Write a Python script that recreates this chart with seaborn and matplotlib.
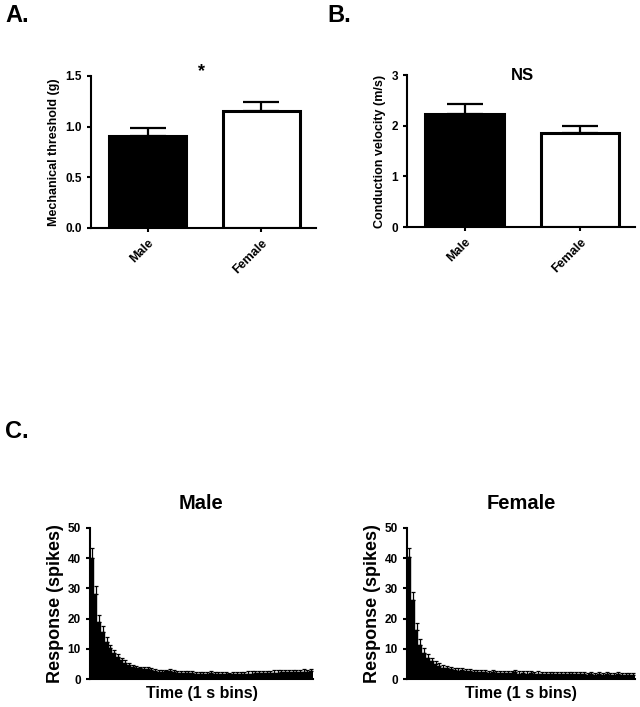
import numpy as np
import pandas as pd
import matplotlib
matplotlib.use("Agg")
import matplotlib.pyplot as plt
import seaborn as sns

# ---- data ----
groups = ["Male", "Female"]
threshold_mean = [0.91, 1.15]
threshold_sem = [0.08, 0.095]
velocity_mean = [2.24, 1.85]
velocity_sem = [0.18, 0.14]

male_resp = [40.2, 28.0, 18.8, 15.5, 12.4, 10.2, 8.5, 7.3, 6.3, 5.4,
             4.6, 4.0, 3.7, 3.5, 3.4, 3.3, 3.1, 2.7, 2.4, 2.3,
             2.5, 2.6, 2.3, 2.0, 1.9, 2.1, 2.0, 1.9, 1.8, 1.8,
             1.7, 1.8, 1.9, 1.7, 1.6, 1.7, 1.6, 1.5, 1.6, 1.7,
             1.6, 1.7, 1.8, 1.8, 1.9, 1.9, 2.0, 2.0, 2.0, 2.1,
             2.1, 2.2, 2.2, 2.3, 2.3, 2.2, 2.3, 2.4, 2.2, 2.5]
male_sem = [3.2, 2.8, 2.5, 2.0, 1.5, 1.2, 1.0, 0.9, 0.8, 0.8,
            0.7, 0.7, 0.7, 0.6, 0.7, 0.6, 0.6, 0.6, 0.6, 0.6,
            0.6, 0.7, 0.6, 0.6, 0.6, 0.6, 0.6, 0.6, 0.6, 0.6,
            0.6, 0.6, 0.6, 0.6, 0.6, 0.6, 0.6, 0.6, 0.6, 0.6,
            0.7, 0.7, 0.7, 0.7, 0.7, 0.7, 0.8, 0.8, 0.8, 0.8,
            0.8, 0.8, 0.8, 0.8, 0.8, 0.8, 0.8, 0.8, 0.8, 0.8]
female_resp = [40.3, 26.2, 16.3, 11.2, 8.5, 6.8, 5.8, 5.0, 4.3, 3.8,
               3.5, 3.3, 3.0, 2.8, 3.0, 2.6, 2.5, 2.3, 2.4, 2.2,
               2.3, 2.1, 2.2, 2.0, 2.1, 2.0, 2.1, 1.9, 2.3, 1.8,
               1.9, 1.8, 1.9, 1.7, 1.8, 1.7, 1.7, 1.6, 1.7, 1.6,
               1.6, 1.5, 1.6, 1.5, 1.6, 1.5, 1.5, 1.4, 1.5, 1.4,
               1.5, 1.4, 1.6, 1.4, 1.3, 1.5, 1.4, 1.3, 1.4, 1.3]
female_sem = [3.0, 2.5, 2.3, 2.0, 1.8, 1.5, 1.3, 1.1, 1.0, 0.9,
              0.8, 0.8, 0.8, 0.7, 0.8, 0.7, 0.7, 0.7, 0.7, 0.7,
              0.7, 0.7, 0.7, 0.7, 0.7, 0.7, 0.7, 0.7, 0.8, 0.7,
              0.7, 0.7, 0.7, 0.7, 0.7, 0.7, 0.7, 0.7, 0.7, 0.7,
              0.7, 0.7, 0.7, 0.7, 0.7, 0.7, 0.7, 0.7, 0.7, 0.7,
              0.7, 0.7, 0.7, 0.7, 0.7, 0.7, 0.7, 0.7, 0.7, 0.7]

sns.set_style("ticks")
plt.rcParams['font.family'] = ['Liberation Sans', 'DejaVu Sans']
plt.rcParams['font.weight'] = 'bold'
plt.rcParams['axes.labelweight'] = 'bold'
plt.rcParams['axes.titleweight'] = 'bold'
plt.rcParams['axes.linewidth'] = 1.5
plt.rcParams['axes.edgecolor'] = 'black'
plt.rcParams['axes.labelcolor'] = 'black'
plt.rcParams['text.color'] = 'black'
plt.rcParams['xtick.color'] = 'black'
plt.rcParams['ytick.color'] = 'black'
plt.rcParams['xtick.major.width'] = 1.5
plt.rcParams['ytick.major.width'] = 1.5
plt.rcParams['xtick.major.size'] = 3
plt.rcParams['ytick.major.size'] = 3

W, H = 640, 707
fig = plt.figure(figsize=(W / 100, H / 100), dpi=100)


def px_axes(left, top, right, bottom):
    return fig.add_axes([left / W, 1 - bottom / H, (right - left) / W, (bottom - top) / H])


def group_panel(ax, means, sems, ylabel, ylim, yticks, fmt):
    df = pd.DataFrame({"group": groups, "value": means})
    sns.barplot(data=df, x="group", y="value", hue="group", palette=["black", "white"],
                edgecolor="black", linewidth=2.2, width=0.68, legend=False, ax=ax,
                errorbar=None, saturation=1)
    ax.errorbar(range(len(groups)), means, yerr=[np.zeros(len(sems)), sems],
                fmt="none", ecolor="black", elinewidth=1.6, capsize=13, capthick=1.6,
                zorder=1)
    ax.set_xlim(-0.5, 1.48)
    ax.set_ylim(*ylim)
    ax.set_yticks(yticks)
    ax.set_yticklabels([fmt.format(t) for t in yticks], fontsize=8.5, fontweight="bold")
    ax.set_xticks(range(len(groups)))
    ax.set_xticklabels(groups, rotation=45, ha="right", rotation_mode="anchor",
                       fontsize=9, fontweight="bold")
    ax.set_xlabel("")
    ax.set_ylabel(ylabel, fontsize=9, fontweight="bold", labelpad=4)
    sns.despine(ax=ax)


# Panel A
axA = px_axes(91, 76, 316, 228)
group_panel(axA, threshold_mean, threshold_sem, "Mechanical threshold (g)",
            (0, 1.5), [0.0, 0.5, 1.0, 1.5], "{:.1f}")
fig.text(201 / W, 1 - 72 / H, "*", ha="center", va="center", fontsize=13, fontweight="bold")

# Panel B
axB = px_axes(407, 75, 635, 227)
group_panel(axB, velocity_mean, velocity_sem, "Conduction velocity (m/s)",
            (0, 3), [0, 1, 2, 3], "{:d}")
fig.text(522 / W, 1 - 75 / H, "NS", ha="center", va="center", fontsize=12, fontweight="bold")


def time_panel(ax, resp, sem, title):
    bins = np.arange(len(resp))
    df = pd.DataFrame({"bin": bins, "resp": resp})
    sns.barplot(data=df, x="bin", y="resp", color="black", edgecolor="black",
                linewidth=0.3, width=1.0, errorbar=None, ax=ax, saturation=1)
    ax.errorbar(bins, resp, yerr=[np.zeros(len(sem)), sem], fmt="none",
                ecolor="black", elinewidth=0.9, capsize=1.3, capthick=0.9)
    ax.set_xlim(-0.5, len(resp) - 0.5)
    ax.set_ylim(0, 50)
    ax.set_yticks([0, 10, 20, 30, 40, 50])
    ax.set_yticklabels(["0", "10", "20", "30", "40", "50"], fontsize=8.5, fontweight="bold")
    ax.set_xticks([])
    ax.set_xlabel("Time (1 s bins)", fontsize=11.5, fontweight="bold", labelpad=5)
    ax.set_ylabel("Response (spikes)", fontsize=13, fontweight="bold", labelpad=3)
    ax.set_title(title, fontsize=14.5, fontweight="bold", pad=14)
    sns.despine(ax=ax)


axM = px_axes(90, 528, 313, 679)
time_panel(axM, male_resp, male_sem, "Male")
axF = px_axes(407, 528, 635, 679)
time_panel(axF, female_resp, female_sem, "Female")

# panel letters
fig.text(5 / W, 1 - 16 / H, "A.", ha="left", va="center", fontsize=17, fontweight="bold")
fig.text(327 / W, 1 - 16 / H, "B.", ha="left", va="center", fontsize=17, fontweight="bold")
fig.text(5 / W, 1 - 432 / H, "C.", ha="left", va="center", fontsize=17, fontweight="bold")

fig.savefig("out.png", dpi=100, facecolor="white")
